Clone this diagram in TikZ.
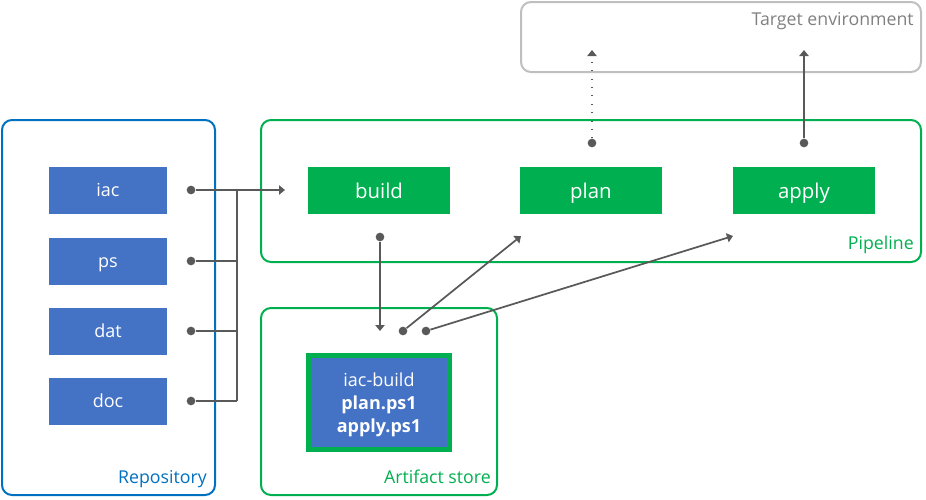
\documentclass[tikz,border=0pt]{standalone}
\usepackage{fontspec}
\setmainfont{Open Sans}
\usetikzlibrary{arrows.meta}
\definecolor{repoblue}{HTML}{0070C0}
\definecolor{fileblue}{HTML}{4472C4}
\definecolor{pipegreen}{HTML}{00B050}
\definecolor{linegray}{HTML}{595959}
\definecolor{envgray}{HTML}{BFBFBF}
\definecolor{envtext}{HTML}{808080}
\begin{document}
\begin{tikzpicture}[x=0.75pt, y=-0.75pt]
	\tikzstyle{area} = [rounded corners=7.5pt, line width=1.5pt]
	\tikzstyle{file_i} = [rectangle, fill=fileblue, minimum width=88.5pt, minimum height=35.25pt, text=white, text height=9.5pt, text depth=0pt, font=\fontsize{13.5}{15}\selectfont]
	\tikzstyle{stage_i} = [rectangle, fill=pipegreen, minimum width=106.5pt, minimum height=35.25pt, text=white, text height=12pt, text depth=0pt, font=\fontsize{15.3}{17}\selectfont]
	\tikzstyle{dot} = [circle, fill=linegray, inner sep=0pt, minimum size=6.5pt]
	\tikzstyle{area_label} = [anchor=base east, inner sep=0pt, font=\fontsize{13.3}{15}\selectfont]
	\tikzstyle{edge} = [draw=linegray, line width=1.3pt]
	\tikzstyle{arrowedge} = [edge, -{Triangle[length=4.5pt, width=7pt]}]
	\useasboundingbox (0,0) rectangle (926,500);

	% areas
	\draw[area, draw=repoblue] (2,120) rectangle (215,495);
	\draw[area, draw=pipegreen] (261,120) rectangle (921,262);
	\draw[area, draw=pipegreen] (261,308) rectangle (497,495);
	\draw[area, draw=envgray] (521,2) rectangle (921,72);
	\node[area_label, text=repoblue] (repo) at (207,483) {Repository};
	\node[area_label, text=pipegreen] (pipeline) at (914,249) {Pipeline};
	\node[area_label, text=pipegreen] (store) at (491,483) {Artifact store};
	\node[area_label, text=envtext] (env) at (914,25) {Target environment};

	% repository
	\foreach \name/\y in {iac/190, ps/261, dat/331, doc/401} {
		\node[file_i] (\name) at (108,\y) {\name};
		\node[dot] (d_\name) at (191,\y) {};
	}
	\coordinate (bus_top) at (237,190);
	\coordinate (bus_bot) at (237,401);
	\draw[edge] (bus_top) -- (bus_bot);
	\foreach \name in {ps, dat, doc}
		\draw[edge] (d_\name) -- (d_\name -| bus_top);

	% pipeline
	\foreach \name/\x in {build/379, plan/591, apply/804}
		\node[stage_i] (\name) at (\x,190) {\name};
	\coordinate (build_in) at (285,190);
	\draw[arrowedge] (d_iac) -- (build_in);

	% artifact
	\node[rectangle, fill=fileblue, draw=pipegreen, line width=3.75pt, minimum width=105.75pt, minimum height=70.5pt] (artifact) at (379,402) {};
	\node[text=white, align=center, font=\fontsize{13.5}{17.25}\selectfont] (artifact_files) at ([yshift=-2.25pt]artifact.center) {iac-build\\\textbf{plan.ps1}\\\textbf{apply.ps1}};
	\node[dot] (d_build) at (380,237) {};
	\coordinate (store_in) at (380,331);
	\draw[arrowedge] (d_build) -- (store_in);
	\node[dot] (d_plan) at (403,331) {};
	\node[dot] (d_apply) at (426,331) {};
	\coordinate (plan_in) at (521,236);
	\coordinate (apply_in) at (733,236);
	\draw[arrowedge] (d_plan) -- (plan_in);
	\draw[arrowedge] (d_apply) -- (apply_in);

	% target environment
	\node[dot] (d_planenv) at (592,143) {};
	\node[dot] (d_applyenv) at (804,143) {};
	\coordinate (env_plan) at (592,50);
	\coordinate (env_apply) at (804,50);
	\draw[arrowedge, line width=0.8pt, dash pattern=on 0.8pt off 5.5pt] (d_planenv) -- (env_plan);
	\draw[arrowedge] (d_applyenv) -- (env_apply);
\end{tikzpicture}
\end{document}
